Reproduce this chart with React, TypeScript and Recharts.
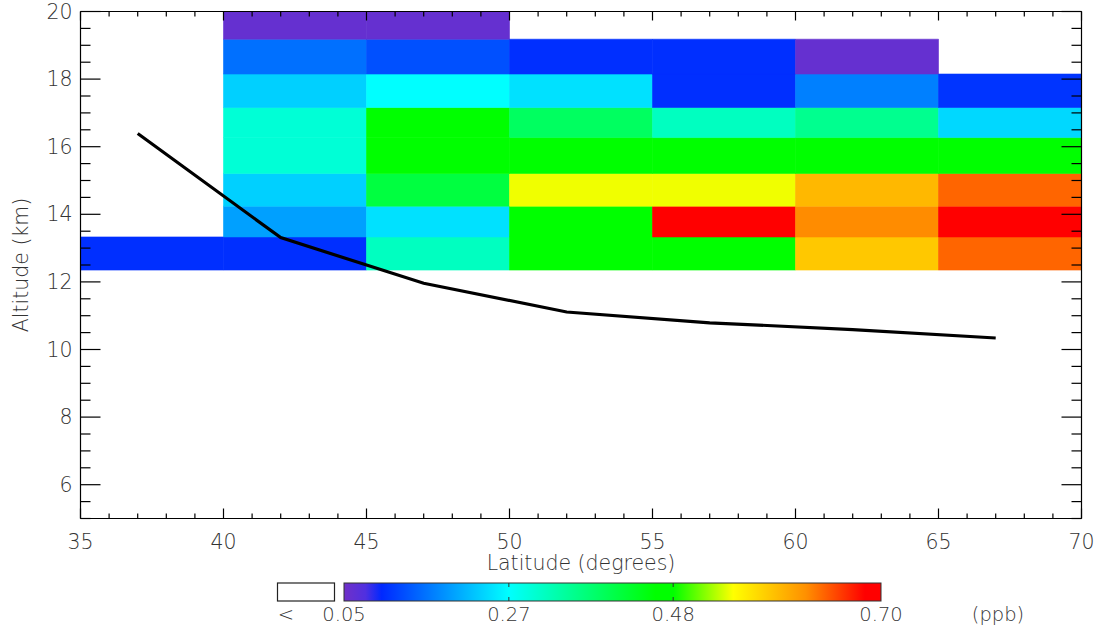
import React from 'react';
import { ComposedChart, XAxis, YAxis, Line, ReferenceArea } from 'recharts';

// Latitude bin edges (degrees) and altitude layer edges (km)
const latEdges = [35, 40, 45, 50, 55, 60, 65, 70];
const altEdges = [12.35, 13.33, 14.24, 15.21, 16.27, 17.16, 18.15, 19.18, 20];

// Mixing ratio (ppb) per latitude bin for each altitude layer (null = no data)
const layer12 = [0.106, 0.106, 0.316, 0.47, 0.47, 0.582, 0.639];
const layer13 = [null, 0.195, 0.246, 0.47, 0.69, 0.622, 0.69];
const layer14 = [null, 0.233, 0.41, 0.54, 0.54, 0.593, 0.639];
const layer15 = [null, 0.3, 0.47, 0.47, 0.47, 0.47, 0.47];
const layer16 = [null, 0.3, 0.47, 0.387, 0.316, 0.352, 0.239];
const layer17 = [null, 0.233, 0.27, 0.246, 0.106, 0.17, 0.11];
const layer18 = [null, 0.157, 0.132, 0.106, 0.106, 0.06, null];
const layer19 = [null, 0.06, 0.06, null, null, null, null];
const layers: (number | null)[][] = [layer12, layer13, layer14, layer15, layer16, layer17, layer18, layer19];

// Tropopause line
const tropLat = [37, 42, 47, 52, 57, 62, 67];
const tropAlt = [16.39, 13.31, 11.96, 11.11, 10.79, 10.59, 10.34];

// Axis ticks
const latMajorTicks = [35, 40, 45, 50, 55, 60, 65, 70];
const altMajorTicks = [6, 8, 10, 12, 14, 16, 18, 20];
const colorbarTicks = [0.05, 0.27, 0.48, 0.70];

const latTicks: number[] = [];
for (let v = 35; v <= 70; v += 1) latTicks.push(v);
const altTicks: number[] = [];
for (let v = 5; v <= 20.001; v += 0.5) altTicks.push(Math.round(v * 10) / 10);

// Colour bar geometry (layout)
const CB_X0 = 344;
const CB_X1 = 881;
const CB_Y = 583;
const CB_H = 18;
const cbFrac = [0, 0.307, 0.613, 1];
const colorStops: [number, string][] = [
  [0.0, '#7030C8'],
  [0.04, '#5030E0'],
  [0.07, '#0028FF'],
  [0.307, '#00FFFF'],
  [0.58, '#00FF00'],
  [0.613, '#00FF00'],
  [0.725, '#FFFF00'],
  [0.86, '#FF9000'],
  [0.97, '#FF0000'],
  [1.0, '#FF0000'],
];

function valueToFrac(v: number): number {
  if (v <= colorbarTicks[0]) return 0;
  for (let i = 1; i < colorbarTicks.length; i++) {
    if (v <= colorbarTicks[i]) {
      const t = (v - colorbarTicks[i - 1]) / (colorbarTicks[i] - colorbarTicks[i - 1]);
      return cbFrac[i - 1] + t * (cbFrac[i] - cbFrac[i - 1]);
    }
  }
  return 1;
}
function hex(c: string): number[] {
  return [1, 3, 5].map((i) => parseInt(c.slice(i, i + 2), 16));
}
function fracToColor(f: number): string {
  for (let i = 1; i < colorStops.length; i++) {
    if (f <= colorStops[i][0]) {
      const [f0, c0] = colorStops[i - 1];
      const [f1, c1] = colorStops[i];
      const t = f1 === f0 ? 0 : (f - f0) / (f1 - f0);
      const a = hex(c0);
      const b = hex(c1);
      const m = a.map((x, k) => Math.round(x + (b[k] - x) * t));
      return `rgb(${m[0]},${m[1]},${m[2]})`;
    }
  }
  return colorStops[colorStops.length - 1][1];
}
const valueColor = (v: number) => fracToColor(valueToFrac(v));

const FONT = '"DejaVu Sans", sans-serif';
const TXT = '#333';
const FS = 20.5;
const CBFS = 19.5;

const BottomTick = (p: any) => {
  const v = p.payload.value;
  const major = latMajorTicks.includes(v);
  return (
    <g>
      <line x1={p.x} x2={p.x} y1={p.y} y2={p.y - (major ? 10 : 5)} stroke="#000" strokeWidth={1.2} />
      {major && (
        <text x={p.x} y={p.y + 23} textAnchor="middle" dominantBaseline="central" fontFamily={FONT} fontSize={FS} fontWeight={200} fill={TXT}>
          {v}
        </text>
      )}
    </g>
  );
};
const TopTick = (p: any) => {
  const v = p.payload.value;
  const major = latMajorTicks.includes(v);
  return <line x1={p.x} x2={p.x} y1={p.y} y2={p.y + (major ? 9 : 5)} stroke="#000" strokeWidth={1.2} />;
};
const LeftTick = (p: any) => {
  const v = p.payload.value;
  const major = altMajorTicks.includes(v);
  return (
    <g>
      <line x1={p.x} x2={p.x + (major ? 20 : 10)} y1={p.y} y2={p.y} stroke="#000" strokeWidth={1.2} />
      {major && (
        <text x={p.x - 8} y={p.y} textAnchor="end" dominantBaseline="central" fontFamily={FONT} fontSize={FS} fontWeight={200} fill={TXT}>
          {v}
        </text>
      )}
    </g>
  );
};
const RightTick = (p: any) => {
  const v = p.payload.value;
  const major = altMajorTicks.includes(v);
  return <line x1={p.x} x2={p.x - (major ? 20 : 10)} y1={p.y} y2={p.y} stroke="#000" strokeWidth={1.2} />;
};

const lineData = tropLat.map((lat, i) => ({ lat, alt: tropAlt[i] }));

export default function App() {
  const cells: React.ReactNode[] = [];
  layers.forEach((row, r) => {
    row.forEach((v, c) => {
      if (v == null) return;
      const col = valueColor(v);
      cells.push(
        <ReferenceArea
          key={`c${r}-${c}`}
          xAxisId="b"
          yAxisId="l"
          x1={latEdges[c]}
          x2={latEdges[c + 1]}
          y1={altEdges[r]}
          y2={altEdges[r + 1]}
          fill={col}
          fillOpacity={1}
          stroke={col}
          strokeWidth={0.6}
          ifOverflow="visible"
        />
      );
    });
  });

  return (
    <div style={{ position: 'absolute', left: 0, top: 0, width: 1096, height: 627, background: '#fff' }}>
      <ComposedChart
        width={1096}
        height={627}
        data={lineData}
        margin={{ top: 10.5, right: 13.5, bottom: 78.5, left: 0.5 }}
      >
        <XAxis
          xAxisId="b"
          dataKey="lat"
          type="number"
          domain={[35, 70]}
          allowDataOverflow
          ticks={latTicks}
          interval={0}
          height={30}
          tickSize={0}
          tickMargin={0}
          axisLine={{ stroke: '#000', strokeWidth: 1.2 }}
          tickLine={false}
          tick={BottomTick}
          label={{ value: 'Latitude (degrees)', position: 'bottom', offset: 7, fontFamily: FONT, fontSize: FS, fontWeight: 200, fill: TXT }}
        />
        <XAxis
          xAxisId="t"
          orientation="top"
          dataKey="lat"
          type="number"
          domain={[35, 70]}
          allowDataOverflow
          ticks={latTicks}
          interval={0}
          height={1}
          tickSize={0}
          tickMargin={0}
          axisLine={{ stroke: '#000', strokeWidth: 1.2 }}
          tickLine={false}
          tick={TopTick}
        />
        <YAxis
          yAxisId="l"
          type="number"
          domain={[5, 20]}
          allowDataOverflow
          ticks={altTicks}
          interval={0}
          width={80}
          tickSize={0}
          tickMargin={0}
          axisLine={{ stroke: '#000', strokeWidth: 1.2 }}
          tickLine={false}
          tick={LeftTick}
          label={{ value: 'Altitude (km)', angle: -90, position: 'insideLeft', offset: 20, style: { textAnchor: 'middle' }, fontFamily: FONT, fontSize: FS, fontWeight: 200, fill: TXT }}
        />
        <YAxis
          yAxisId="r"
          orientation="right"
          type="number"
          domain={[5, 20]}
          allowDataOverflow
          ticks={altTicks}
          interval={0}
          width={1}
          tickSize={0}
          tickMargin={0}
          axisLine={{ stroke: '#000', strokeWidth: 1.2 }}
          tickLine={false}
          tick={RightTick}
        />
        {cells}
        <Line
          xAxisId="b"
          yAxisId="l"
          dataKey="alt"
          type="linear"
          stroke="#000"
          strokeWidth={3.2}
          dot={false}
          activeDot={false}
          isAnimationActive={false}
        />
      </ComposedChart>
      <svg width={1096} height={627} style={{ position: 'absolute', left: 0, top: 0, pointerEvents: 'none' }}>
        <defs>
          <linearGradient id="cbgrad" x1="0" x2="1" y1="0" y2="0">
            {colorStops.map(([f, c], i) => (
              <stop key={i} offset={f} stopColor={c} />
            ))}
          </linearGradient>
        </defs>
        <rect x={277.5} y={CB_Y} width={57} height={CB_H} fill="#fff" stroke="#222" strokeWidth={1.2} />
        <rect x={CB_X0} y={CB_Y} width={CB_X1 - CB_X0} height={CB_H} fill="url(#cbgrad)" stroke="#333" strokeWidth={1} />
        {colorbarTicks.slice(1, -1).map((t, i) => {
          const x = CB_X0 + valueToFrac(t) * (CB_X1 - CB_X0);
          return (
            <g key={i}>
              <line x1={x} x2={x} y1={CB_Y} y2={CB_Y + 4} stroke="#333" />
              <line x1={x} x2={x} y1={CB_Y + CB_H} y2={CB_Y + CB_H - 4} stroke="#333" />
            </g>
          );
        })}
        <text x={286} y={614} textAnchor="middle" dominantBaseline="central" fontFamily={FONT} fontSize={CBFS} fontWeight={200} fill={TXT}>
          {'<'}
        </text>
        {colorbarTicks.map((t, i) => {
          const x = CB_X0 + valueToFrac(t) * (CB_X1 - CB_X0);
          return (
            <text key={i} x={x} y={614} textAnchor="middle" dominantBaseline="central" fontFamily={FONT} fontSize={CBFS} fontWeight={200} fill={TXT}>
              {t.toFixed(2)}
            </text>
          );
        })}
        <text x={998} y={614} textAnchor="middle" dominantBaseline="central" fontFamily={FONT} fontSize={CBFS} fontWeight={200} fill={TXT}>
          (ppb)
        </text>
      </svg>
    </div>
  );
}
